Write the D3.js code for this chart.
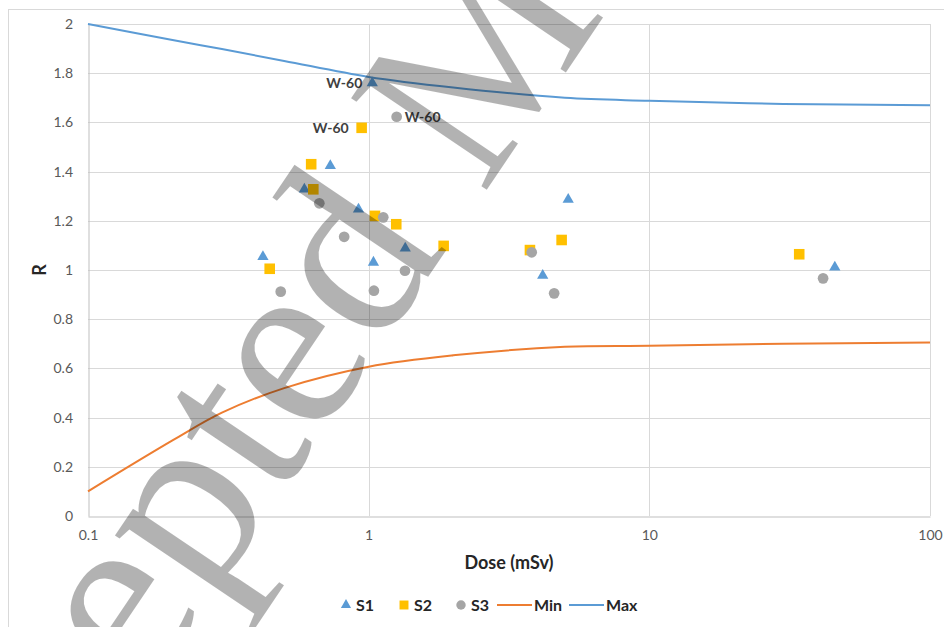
<!DOCTYPE html>
<html>
<head>
<meta charset="utf-8">
<script src="https://cdn.jsdelivr.net/npm/d3@7"></script>
<style>
    body { margin: 0; background: #fff; }
    #chart { width: 944px; height: 627px; }
    text { font-family: Lato, "Open Sans", sans-serif; }
</style>
</head>
<body>
<div id="chart"></div>
<script>
document.addEventListener('DOMContentLoaded', function() {

    // scatter series
    const s1Dose = [1.03, 0.73, 0.59, 0.92, 1.35, 1.04, 0.42, 5.14, 4.17, 45.8];
    const s1R    = [1.76, 1.424, 1.328, 1.247, 1.088, 1.031, 1.054, 1.287, 0.978, 1.011];
    const s2Dose = [0.944, 0.624, 0.635, 1.053, 1.254, 1.85, 0.444, 3.755, 4.87, 34.2];
    const s2R    = [1.578, 1.43, 1.328, 1.22, 1.186, 1.098, 1.005, 1.081, 1.122, 1.064];
    const s3Dose = [1.258, 0.667, 1.127, 0.818, 1.347, 1.044, 0.486, 3.81, 4.58, 41.6];
    const s3R    = [1.623, 1.271, 1.214, 1.135, 0.997, 0.916, 0.912, 1.072, 0.905, 0.966];

    // limit curves
    const lineDose = [0.1, 0.2, 0.3, 0.5, 1, 2, 5, 10, 30, 100];
    const minR = [0.1, 0.307, 0.42, 0.52, 0.607, 0.653, 0.688, 0.692, 0.70, 0.705];
    const maxR = [2.0, 1.935, 1.898, 1.85, 1.785, 1.742, 1.70, 1.688, 1.675, 1.67];

    const xTicks = [0.1, 1, 10, 100];
    const yTicks = [0, 0.2, 0.4, 0.6, 0.8, 1, 1.2, 1.4, 1.6, 1.8, 2];
    const pointLabel = "W-60";

    const margin = { top: 24, right: 14, bottom: 111, left: 88 };
    const W = 944, H = 627;
    const width = W - margin.left - margin.right;
    const height = H - margin.top - margin.bottom;

    const root = d3.select("#chart").append("svg")
        .attr("width", W)
        .attr("height", H);

    root.append("rect")
        .attr("x", 8.5).attr("y", 9.5)
        .attr("width", 940).attr("height", 640)
        .attr("fill", "none")
        .attr("stroke", "#D9D9D9");

    const svg = root.append("g")
        .attr("transform", `translate(${margin.left},${margin.top})`);

    const x = d3.scaleLog().domain([0.1, 100]).range([0, width]);
    const y = d3.scaleLinear().domain([0, 2]).range([height, 0]);

    // grid
    svg.append("g").selectAll("line").data(yTicks.slice(1)).join("line")
        .attr("x1", 0).attr("x2", width)
        .attr("y1", d => Math.round(y(d)) + 0.5).attr("y2", d => Math.round(y(d)) + 0.5)
        .attr("stroke", "#D9D9D9");
    svg.append("g").selectAll("line").data(xTicks.slice(1)).join("line")
        .attr("x1", d => Math.round(x(d)) + 0.5).attr("x2", d => Math.round(x(d)) + 0.5)
        .attr("y1", 0).attr("y2", height)
        .attr("stroke", "#D9D9D9");

    // axes
    const yAxis = d3.axisLeft(y).tickValues(yTicks).tickSize(0).tickPadding(15)
        .tickFormat(d3.format("~g"));
    const gy = svg.append("g").call(yAxis);
    gy.select(".domain").attr("stroke", "#BFBFBF").attr("transform", "translate(0.5,0)");
    gy.selectAll("text").attr("fill", "#595959").style("font-size", "14px");

    const xAxis = d3.axisBottom(x).tickValues(xTicks).tickSize(0).tickPadding(14)
        .tickFormat(d3.format("~g"));
    const gx = svg.append("g").attr("transform", `translate(0,${height})`).call(xAxis);
    gx.select(".domain").attr("stroke", "#BFBFBF").attr("transform", "translate(0,0.5)");
    gx.selectAll("text").attr("fill", "#595959").style("font-size", "14px");

    svg.append("text")
        .attr("x", width / 2).attr("y", height + 53)
        .attr("text-anchor", "middle")
        .attr("fill", "#262626")
        .style("font-size", "18px").style("font-weight", "bold")
        .text("Dose (mSv)");

    svg.append("text")
        .attr("transform", `translate(${-42},${height / 2}) rotate(-90)`)
        .attr("text-anchor", "middle")
        .attr("fill", "#262626")
        .style("font-size", "18px").style("font-weight", "bold")
        .text("R");

    // lines
    const line = d3.line()
        .x(d => x(d[0]))
        .y(d => y(d[1]))
        .curve(d3.curveCatmullRom.alpha(0.5));

    svg.append("path")
        .datum(d3.zip(lineDose, minR))
        .attr("fill", "none").attr("stroke", "#ED7D31").attr("stroke-width", 2)
        .attr("d", line);
    svg.append("path")
        .datum(d3.zip(lineDose, maxR))
        .attr("fill", "none").attr("stroke", "#5B9BD5").attr("stroke-width", 2)
        .attr("d", line);

    // markers
    const series = [
        { name: "S1", dose: s1Dose, r: s1R, type: d3.symbolTriangle, size: 55, color: "#5B9BD5", dx: -10, anchor: "end" },
        { name: "S2", dose: s2Dose, r: s2R, type: d3.symbolSquare, size: 112, color: "#FFC000", dx: -13, anchor: "end" },
        { name: "S3", dose: s3Dose, r: s3R, type: d3.symbolCircle, size: 90, color: "#A5A5A5", dx: 8, anchor: "start" }
    ];

    series.forEach(s => {
        const pts = d3.zip(s.dose, s.r);
        svg.append("g").selectAll("path").data(pts).join("path")
            .attr("transform", d => `translate(${x(d[0])},${y(d[1])})`)
            .attr("d", d3.symbol().type(s.type).size(s.size))
            .attr("fill", s.color);

        // first point of each series is labelled
        svg.append("text")
            .attr("x", x(pts[0][0]) + s.dx)
            .attr("y", y(pts[0][1]))
            .attr("dy", "0.36em")
            .attr("text-anchor", s.anchor)
            .attr("fill", "#404040")
            .style("font-size", "14px").style("font-weight", "bold")
            .text(pointLabel);
    });

    // legend
    const legend = root.append("g").attr("transform", "translate(0,605)");
    const legendItems = [
        { label: "S1", x: 346, kind: "sym", type: d3.symbolTriangle, size: 45, color: "#5B9BD5" },
        { label: "S2", x: 404, kind: "sym", type: d3.symbolSquare, size: 80, color: "#FFC000" },
        { label: "S3", x: 461, kind: "sym", type: d3.symbolCircle, size: 70, color: "#A5A5A5" },
        { label: "Min", x: 497, kind: "line", color: "#ED7D31" },
        { label: "Max", x: 569, kind: "line", color: "#5B9BD5" }
    ];
    legendItems.forEach(it => {
        let tx;
        if (it.kind === "sym") {
            legend.append("path")
                .attr("transform", `translate(${it.x},0)`)
                .attr("d", d3.symbol().type(it.type).size(it.size))
                .attr("fill", it.color);
            tx = it.x + 10;
        } else {
            legend.append("line")
                .attr("x1", it.x).attr("x2", it.x + 35)
                .attr("y1", 0).attr("y2", 0)
                .attr("stroke", it.color).attr("stroke-width", 2);
            tx = it.x + 37;
        }
        legend.append("text")
            .attr("x", tx).attr("dy", "0.36em")
            .attr("fill", "#262626")
            .style("font-size", "16px").style("font-weight", "bold")
            .text(it.label);
    });

    // "Accepted Manuscript" watermark over the chart
    root.append("text")
        .attr("transform", "translate(-80,1030) rotate(-56)")
        .attr("fill", "#000").attr("fill-opacity", 0.3)
        .style("font-family", "'Liberation Serif', 'Times New Roman', serif")
        .style("font-size", "250px")
        .text("Accepted Manuscript");
});
</script>
</body>
</html>
